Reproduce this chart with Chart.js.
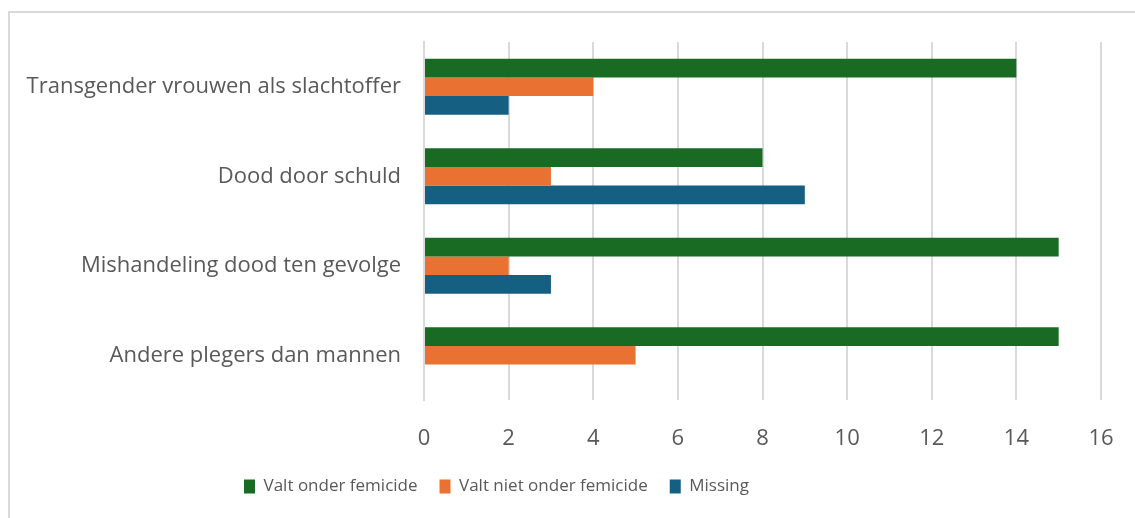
<!DOCTYPE html>
<html>
<head>
<meta charset="utf-8">
<script src="https://cdn.jsdelivr.net/npm/chart.js@4"></script>
<style>
  html, body { margin: 0; padding: 0; background: #ffffff; }
  #wrap { position: relative; width: 1135px; height: 518px; overflow: hidden; }
  #frame { position: absolute; left: 8px; top: 11px; width: 1140px; height: 520px;
           border-top: 2px solid #d9d9d9; border-left: 2px solid #d9d9d9; box-sizing: border-box; }
  canvas { position: absolute; left: 0; top: 0; }
</style>
</head>
<body>
<div id="wrap">
  <div id="frame"></div>
  <canvas id="c" width="1135" height="518"></canvas>
</div>
<script>
const categories = [
  "Transgender vrouwen als slachtoffer",
  "Dood door schuld",
  "Mishandeling dood ten gevolge",
  "Andere plegers dan mannen"
];
const seriesNames = ["Valt onder femicide", "Valt niet onder femicide", "Missing"];
const valtOnder = [14, 8, 15, 15];
const valtNietOnder = [4, 3, 2, 5];
const missing = [2, 9, 3, null];
const seriesColors = ["#196B24", "#E97132", "#156082"];
const xMin = 0, xMax = 16, xStep = 2;

const FONT = "'Open Sans', sans-serif";
const TEXT = "#595959";
const GRID = "#d9d9d9";

const legendShift = {
  id: "legendShift",
  afterUpdate(chart) {
    const lg = chart.legend;
    if (lg) { lg.left -= 54; lg.right -= 54; }
  }
};

new Chart(document.getElementById("c"), {
  type: "bar",
  data: {
    labels: categories,
    datasets: [valtOnder, valtNietOnder, missing].map((d, i) => ({
      label: seriesNames[i],
      data: d,
      backgroundColor: seriesColors[i],
      borderWidth: 0,
      categoryPercentage: 0.625,
      barPercentage: 1.0
    }))
  },
  options: {
    indexAxis: "y",
    responsive: false,
    animation: false,
    layout: { padding: { top: 42, right: 34, left: 0, bottom: 13 } },
    scales: {
      x: {
        min: xMin, max: xMax,
        ticks: { stepSize: xStep, color: TEXT, font: { family: FONT, size: 22 }, padding: 26 },
        grid: { color: GRID, lineWidth: 2, drawTicks: false },
        border: { display: false },
        afterFit: (s) => { s.height = 56; s.paddingRight = 0; s.paddingLeft = 0; }
      },
      y: {
        ticks: { color: TEXT, font: { family: FONT, size: 22 }, padding: 23 },
        grid: { display: false, drawTicks: false },
        border: { display: true, color: GRID, width: 2 },
        afterFit: (s) => { s.width = 424; }
      }
    },
    plugins: {
      legend: {
        position: "bottom",
        labels: {
          color: TEXT,
          font: { family: FONT, size: 17 },
          boxWidth: 11,
          boxHeight: 14,
          padding: 22
        }
      },
      tooltip: { enabled: false }
    }
  },
  plugins: [legendShift]
});
</script>
</body>
</html>
